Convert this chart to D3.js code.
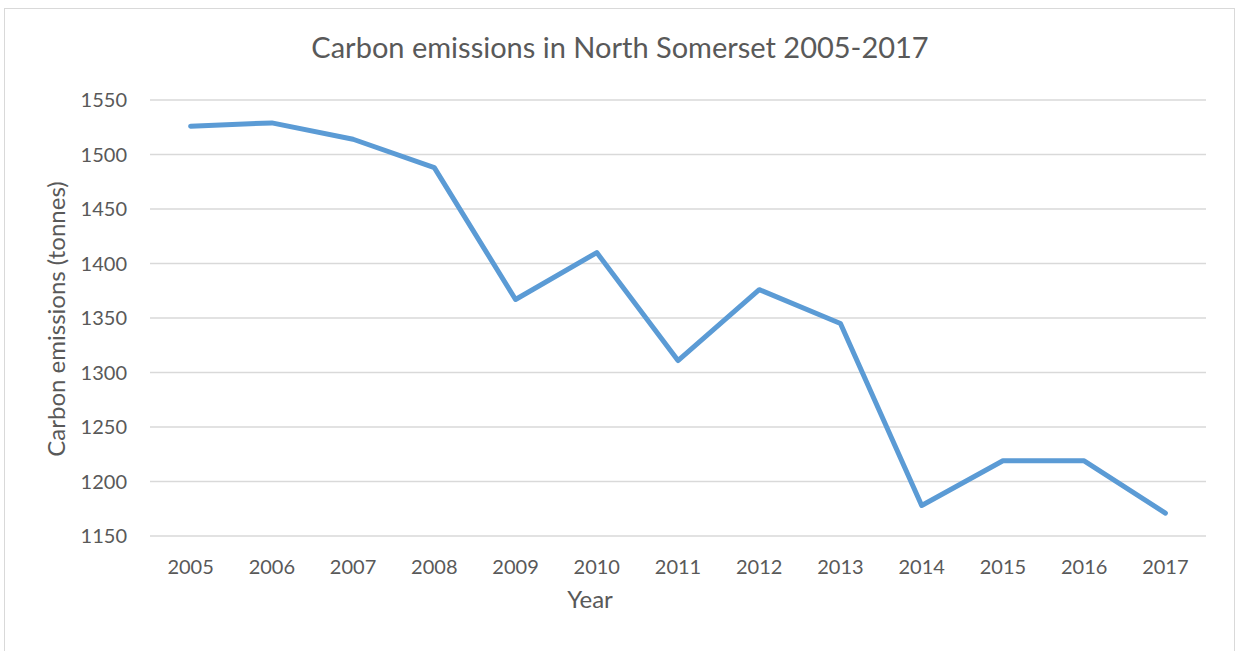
<!DOCTYPE html>
<html><head><meta charset="utf-8">
<script src="https://cdn.jsdelivr.net/npm/d3@7"></script>
<style>body{margin:0;background:#fff}svg{display:block}text{font-family:Lato,"Open Sans",sans-serif;fill:#595959}</style>
</head><body>
<script>
const years = ["2005","2006","2007","2008","2009","2010","2011","2012","2013","2014","2015","2016","2017"];
const emissions = [1526,1529,1514,1488,1367,1410,1311,1376,1345,1178,1219,1219,1171];
const yTicks = [1150,1200,1250,1300,1350,1400,1450,1500,1550];
const title = "Carbon emissions in North Somerset 2005-2017";
const xTitle = "Year";
const yTitle = "Carbon emissions (tonnes)";

const W=1240,H=651;
const svg=d3.select("body").append("svg").attr("width",W).attr("height",H);
svg.append("rect").attr("x",4.5).attr("y",8.5).attr("width",1230).attr("height",660).attr("fill","#fff").attr("stroke","#d9d9d9");

const x=d3.scaleBand().domain(years).range([150,1206]);
const y=d3.scaleLinear().domain([1150,1550]).range([536,100]);

svg.append("g").selectAll("line").data(yTicks).join("line")
 .attr("x1",150).attr("x2",1206).attr("y1",d=>y(d)).attr("y2",d=>y(d))
 .attr("stroke","#d9d9d9").attr("stroke-width",1.5);

svg.append("g").selectAll("text").data(yTicks).join("text")
 .attr("x",127).attr("y",d=>y(d)).attr("dy","0.35em").attr("text-anchor","end")
 .attr("font-size",20).text(d=>d);

svg.append("g").selectAll("text").data(years).join("text")
 .attr("x",d=>x(d)+x.bandwidth()/2).attr("y",567).attr("dy","0.35em").attr("text-anchor","middle")
 .attr("font-size",20).text(d=>d);

const line=d3.line().x((d,i)=>x(years[i])+x.bandwidth()/2).y(d=>y(d));
svg.append("path").datum(emissions).attr("d",line).attr("fill","none")
 .attr("stroke","#5b9bd5").attr("stroke-width",5).attr("stroke-linecap","round").attr("stroke-linejoin","round");

svg.append("text").attr("x",620).attr("y",48).attr("dy","0.35em").attr("text-anchor","middle").attr("font-size",29).text(title);
svg.append("text").attr("x",590).attr("y",600).attr("dy","0.35em").attr("text-anchor","middle").attr("font-size",24).text(xTitle);
svg.append("text").attr("transform","translate(57,319) rotate(-90)").attr("dy","0.35em").attr("text-anchor","middle").attr("font-size",24).text(yTitle);
</script>
</body></html>
